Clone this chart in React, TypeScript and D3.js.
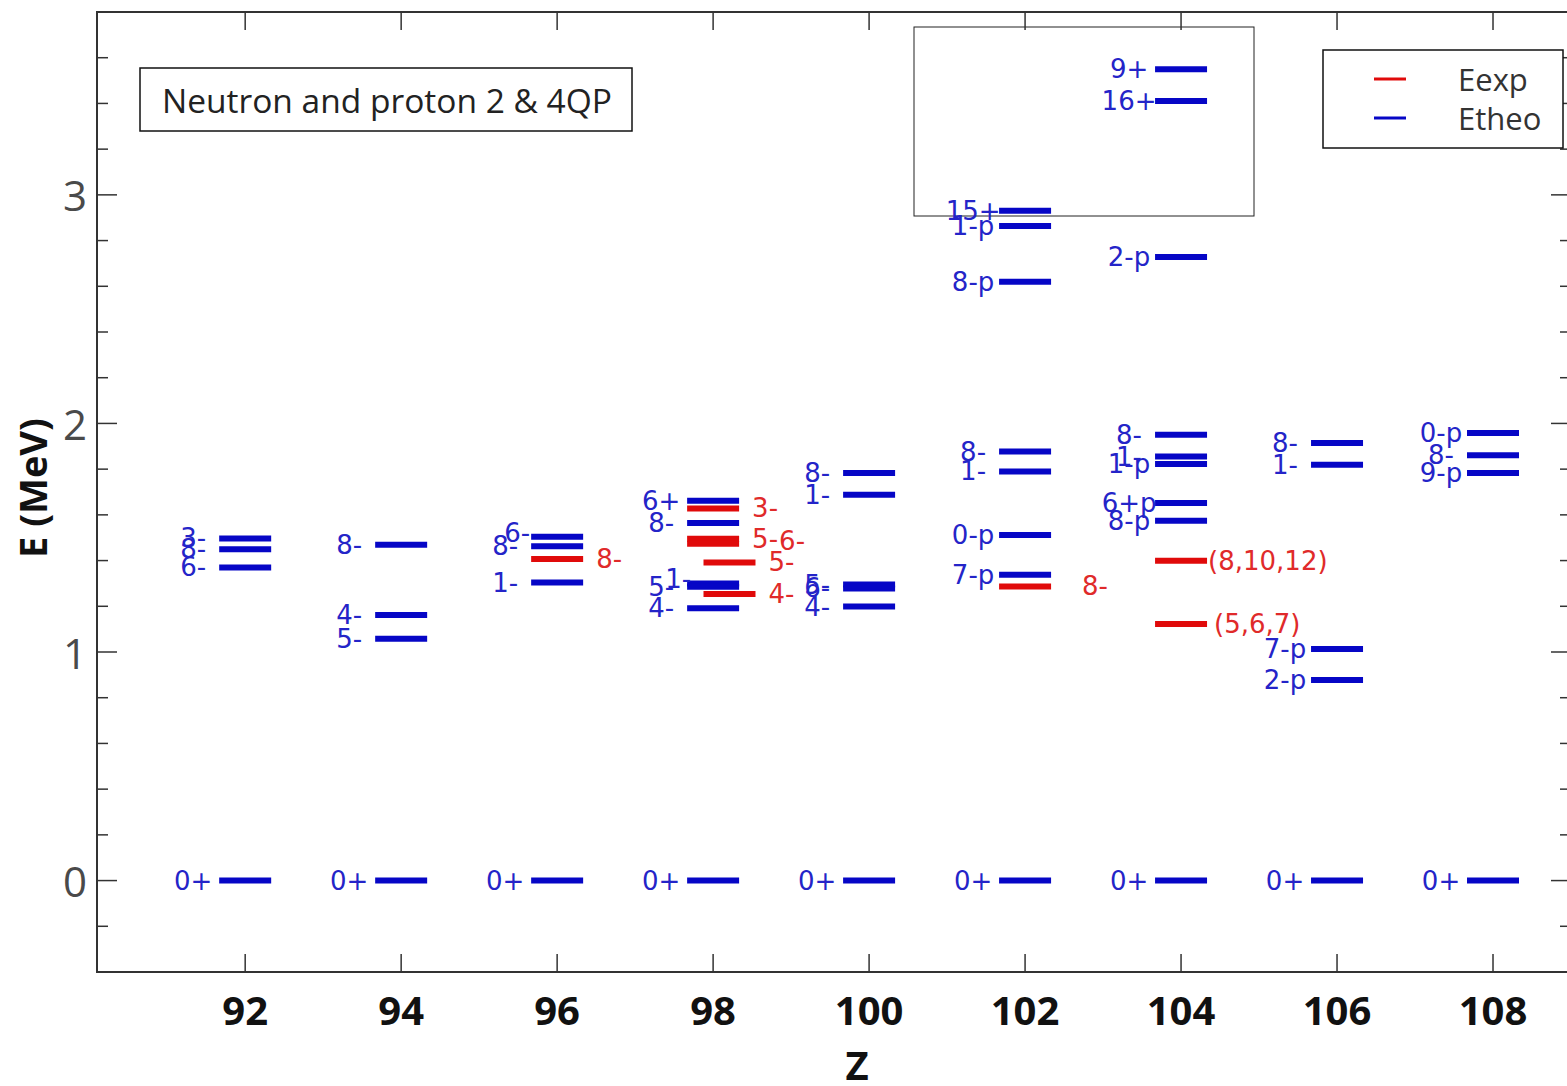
import * as d3 from "d3";
import { useEffect, useRef } from "react";

// even-Z nuclei on the x axis
const zTicks = [92, 94, 96, 98, 100, 102, 104, 106, 108];
const yLabelTicks = [0, 1, 2, 3];

// theoretical levels: [Z, E (MeV), K^pi]
const theoLevels: [number, number, string][] = [
  [92, 0, "0+"], [92, 1.497, "3-"], [92, 1.45, "8-"], [92, 1.37, "6-"],
  [94, 0, "0+"], [94, 1.469, "8-"], [94, 1.162, "4-"], [94, 1.058, "5-"],
  [96, 0, "0+"], [96, 1.504, "6-"], [96, 1.463, "8-"], [96, 1.304, "1-"],
  [98, 0, "0+"], [98, 1.662, "6+"], [98, 1.564, "8-"], [98, 1.3, "1-"], [98, 1.285, "5-"], [98, 1.191, "4-"],
  [100, 0, "0+"], [100, 1.783, "8-"], [100, 1.688, "1-"], [100, 1.295, "5-"], [100, 1.278, "6-"], [100, 1.199, "4-"],
  [102, 0, "0+"], [102, 2.93, "15+"], [102, 2.864, "1-p"], [102, 2.62, "8-p"], [102, 1.877, "8-"], [102, 1.79, "1-"],
  [102, 1.512, "0-p"], [102, 1.338, "7-p"],
  [104, 0, "0+"], [104, 3.549, "9+"], [104, 3.411, "16+"], [104, 2.728, "2-p"], [104, 1.95, "8-"], [104, 1.855, "1-"],
  [104, 1.822, "1-p"], [104, 1.652, "6+p"], [104, 1.574, "8-p"],
  [106, 0, "0+"], [106, 1.914, "8-"], [106, 1.819, "1-"], [106, 1.013, "7-p"], [106, 0.878, "2-p"],
  [108, 0, "0+"], [108, 1.958, "0-p"], [108, 1.861, "8-"], [108, 1.783, "9-p"],
];

// experimental levels: [Z position, E (MeV), K^pi]
const expLevels: [number, number, string][] = [
  [96, 1.407, "8-"],
  [98, 1.628, "3-"], [98, 1.495, "5-"], [98, 1.474, "6-"], [98.21, 1.392, "5-"], [98.21, 1.254, "4-"],
  [102, 1.287, "8-"],
  [104, 1.399, "(8,10,12)"], [104, 1.122, "(5,6,7)"],
];

// hand placed label shifts (px), as in the original figure
const labelNudge: Record<string, [number, number]> = {
  "t96:6-": [12, -4],
  "t98:1-": [17, -4],
  "e98:6-": [27, -3],
  "e102:8-": [18, 0],
  "e104:(8,10,12)": [-12, 0],
  "e104:(5,6,7)": [-6, 0],
};

const BLUE = "#0606c6";
const BLUE_TXT = "#2424c8";
const RED = "#e00a0a";
const RED_TXT = "#e02a2a";

export default function App() {
  const ref = useRef<SVGSVGElement>(null);

  useEffect(() => {
    if (!ref.current) return;
    const svg = d3.select(ref.current);
    svg.selectAll("*").remove();

    const W = 1567;
    const H = 1086;
    const left = 97, top = 12, right = 1571, bottom = 972;

    const x = d3.scaleLinear().domain([90.1, 109.0]).range([left, right]);
    const y = d3.scaleLinear().domain([-0.4, 3.8]).range([bottom, top]);
    const half = 1 / 3;

    svg.attr("width", W).attr("height", H).attr("viewBox", `0 0 ${W} ${H}`);
    svg.append("rect").attr("width", W).attr("height", H).attr("fill", "#fff");

    // title box
    svg.append("rect")
      .attr("x", 140).attr("y", 68).attr("width", 492).attr("height", 63)
      .attr("fill", "#fff").attr("stroke", "#111").attr("stroke-width", 1.5);
    svg.append("text")
      .attr("x", 162).attr("y", 100)
      .attr("dominant-baseline", "central")
      .attr("font-family", "'Open Sans', sans-serif").attr("font-size", 33.5).attr("fill", "#222")
      .text("Neutron and proton 2 & 4QP");

    // empty inset frame
    svg.append("rect")
      .attr("x", 914).attr("y", 27).attr("width", 340).attr("height", 189)
      .attr("fill", "none").attr("stroke", "#222").attr("stroke-width", 1);

    // theory bars
    svg.append("g").selectAll("line")
      .data(theoLevels)
      .join("line")
      .attr("x1", d => x(d[0] - half)).attr("x2", d => x(d[0] + half))
      .attr("y1", d => y(d[1])).attr("y2", d => y(d[1]))
      .attr("stroke", BLUE).attr("stroke-width", 6);

    // experimental bars
    svg.append("g").selectAll("line")
      .data(expLevels)
      .join("line")
      .attr("x1", d => x(d[0] - half)).attr("x2", d => x(d[0] + half))
      .attr("y1", d => y(d[1])).attr("y2", d => y(d[1]))
      .attr("stroke", RED).attr("stroke-width", 6);

    const nudge = (k: string) => labelNudge[k] || [0, 0];

    svg.append("g").selectAll("text")
      .data(theoLevels)
      .join("text")
      .attr("x", d => x(d[0] - 2 / 3) + nudge(`t${Math.round(d[0])}:${d[2]}`)[0])
      .attr("y", d => y(d[1]) + nudge(`t${Math.round(d[0])}:${d[2]}`)[1])
      .attr("text-anchor", "middle")
      .attr("dominant-baseline", "central")
      .attr("font-family", "'DejaVu Sans', sans-serif").attr("font-size", 26)
      .attr("fill", BLUE_TXT)
      .text(d => d[2]);

    svg.append("g").selectAll("text")
      .data(expLevels)
      .join("text")
      .attr("x", d => x(d[0] + half) + 13 + nudge(`e${Math.round(d[0])}:${d[2]}`)[0])
      .attr("y", d => y(d[1]) + nudge(`e${Math.round(d[0])}:${d[2]}`)[1])
      .attr("dominant-baseline", "central")
      .attr("font-family", "'DejaVu Sans', sans-serif").attr("font-size", 26)
      .attr("fill", RED_TXT)
      .text(d => d[2]);

    // frame
    svg.append("rect")
      .attr("x", left).attr("y", top).attr("width", right - left).attr("height", bottom - top)
      .attr("fill", "none").attr("stroke", "#333").attr("stroke-width", 2);

    // y ticks (both sides)
    const yMinor = y.ticks(21).filter(v => Math.abs(v - Math.round(v)) > 1e-6);
    const tickG = svg.append("g").attr("stroke", "#333").attr("stroke-width", 1.5);
    yLabelTicks.forEach(v => {
      tickG.append("line").attr("x1", left).attr("x2", left + 20).attr("y1", y(v)).attr("y2", y(v));
      tickG.append("line").attr("x1", right).attr("x2", right - 20).attr("y1", y(v)).attr("y2", y(v));
    });
    yMinor.forEach(v => {
      tickG.append("line").attr("x1", left).attr("x2", left + 11).attr("y1", y(v)).attr("y2", y(v));
      tickG.append("line").attr("x1", right).attr("x2", right - 11).attr("y1", y(v)).attr("y2", y(v));
    });
    zTicks.forEach(v => {
      tickG.append("line").attr("x1", x(v)).attr("x2", x(v)).attr("y1", top).attr("y2", top + 18);
      tickG.append("line").attr("x1", x(v)).attr("x2", x(v)).attr("y1", bottom).attr("y2", bottom - 18);
    });

    // tick labels
    svg.append("g").selectAll("text")
      .data(yLabelTicks)
      .join("text")
      .attr("x", 87).attr("y", d => y(d))
      .attr("text-anchor", "end").attr("dominant-baseline", "central")
      .attr("font-family", "'Open Sans', sans-serif").attr("font-size", 42).attr("fill", "#4a4a4a")
      .text(d => d);

    svg.append("g").selectAll("text")
      .data(zTicks)
      .join("text")
      .attr("x", d => x(d)).attr("y", 1009)
      .attr("text-anchor", "middle").attr("dominant-baseline", "central")
      .attr("font-family", "'Open Sans', sans-serif").attr("font-weight", 700).attr("font-size", 40)
      .attr("fill", "#111")
      .text(d => d);

    // axis titles
    svg.append("text")
      .attr("x", 857).attr("y", 1064)
      .attr("text-anchor", "middle").attr("dominant-baseline", "central")
      .attr("font-family", "'Open Sans', sans-serif").attr("font-weight", 700).attr("font-size", 40)
      .attr("fill", "#111").text("Z");
    svg.append("text")
      .attr("transform", "translate(32,488) rotate(-90)")
      .attr("text-anchor", "middle").attr("dominant-baseline", "central")
      .attr("font-family", "'Open Sans', sans-serif").attr("font-weight", 700).attr("font-size", 38)
      .attr("fill", "#111").text("E (MeV)");

    // legend
    const lg = svg.append("g");
    lg.append("rect")
      .attr("x", 1323).attr("y", 50).attr("width", 240).attr("height", 98)
      .attr("fill", "#fff").attr("stroke", "#111").attr("stroke-width", 1.5);
    const items: [string, string, number][] = [["Eexp", RED, 79], ["Etheo", BLUE, 118]];
    items.forEach(([name, col, yy]) => {
      lg.append("line").attr("x1", 1374).attr("x2", 1406).attr("y1", yy).attr("y2", yy)
        .attr("stroke", col).attr("stroke-width", 3);
      lg.append("text").attr("x", 1458).attr("y", yy)
        .attr("dominant-baseline", "central")
        .attr("font-family", "'Open Sans', sans-serif").attr("font-size", 31).attr("fill", "#333")
        .text(name);
    });
  }, []);

  return (
    <div style={{ position: "absolute", left: 0, top: 0 }}>
      <svg ref={ref} style={{ display: "block" }} />
    </div>
  );
}
